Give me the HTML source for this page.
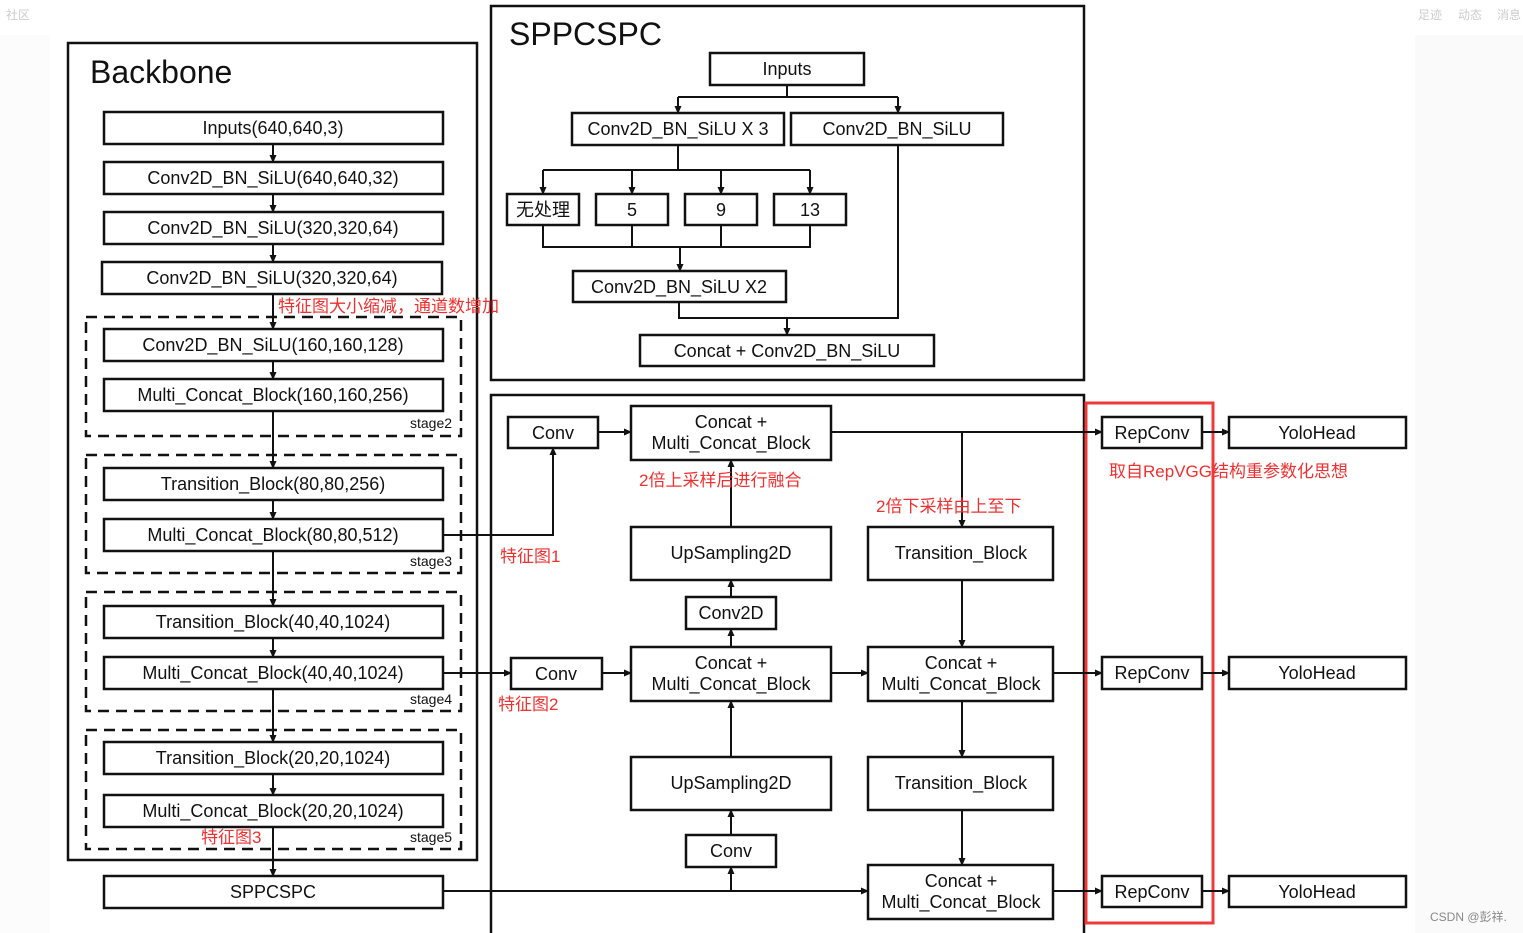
<!DOCTYPE html>
<html><head><meta charset="utf-8"><style>
html,body{margin:0;padding:0;background:#fff}
svg{display:block}
text{font-family:"Liberation Sans","Noto Sans CJK SC",sans-serif;font-size:18px;fill:#111}
.r{fill:#f03030;font-size:17px}
.s{font-size:14px}
</style></head><body>
<svg width="1523" height="933" viewBox="0 0 1523 933" xmlns="http://www.w3.org/2000/svg">
<defs><marker id="a" markerWidth="8" markerHeight="8" refX="7" refY="4" orient="auto" markerUnits="userSpaceOnUse"><path d="M0,0.5 L8,4 L0,7.5 Z" fill="#111"/></marker></defs>
<rect x="1415" y="35" width="108" height="898" fill="#fafafa"/>
<rect x="0" y="35" width="50" height="898" fill="#fcfcfc"/>
<text x="6" y="19" style="font-size:12px;fill:#ccc">社区</text>
<text x="1418" y="19" style="font-size:12px;fill:#ccc">足迹</text>
<text x="1458" y="19" style="font-size:12px;fill:#ccc">动态</text>
<text x="1497" y="19" style="font-size:12px;fill:#ccc">消息</text>
<text x="1430" y="921" style="font-size:12px;fill:#888">CSDN @彭祥.</text>
<g fill="none" stroke="#111" stroke-width="2.5">
<rect x="68" y="43" width="409" height="817"/>
<rect x="491" y="6" width="593" height="374"/>
<path d="M491,940 V395 H1084 V940"/>
<g stroke-dasharray="11,7">
<rect x="86" y="317" width="375" height="119"/>
<rect x="86" y="455" width="375" height="118"/>
<rect x="86" y="592" width="375" height="119"/>
<rect x="86" y="730" width="375" height="119"/>
</g>
<rect x="104" y="112" width="339" height="32"/>
<rect x="104" y="162" width="339" height="32"/>
<rect x="104" y="212" width="339" height="32"/>
<rect x="102" y="262" width="340" height="32"/>
<rect x="104" y="329" width="339" height="32"/>
<rect x="104" y="379" width="339" height="32"/>
<rect x="104" y="468" width="339" height="32"/>
<rect x="104" y="519" width="339" height="32"/>
<rect x="104" y="606" width="339" height="32"/>
<rect x="104" y="657" width="339" height="32"/>
<rect x="104" y="742" width="339" height="32"/>
<rect x="104" y="795" width="339" height="32"/>
<rect x="104" y="876" width="339" height="32"/>
<rect x="710" y="53" width="154" height="32"/>
<rect x="572" y="113" width="212" height="32"/>
<rect x="791" y="113" width="212" height="32"/>
<rect x="507" y="194" width="72" height="31"/>
<rect x="596" y="194" width="72" height="31"/>
<rect x="685" y="194" width="72" height="31"/>
<rect x="774" y="194" width="72" height="31"/>
<rect x="573" y="271" width="213" height="31"/>
<rect x="640" y="335" width="294" height="31"/>
<rect x="508" y="417" width="90" height="31"/>
<rect x="631" y="406" width="200" height="54"/>
<rect x="631" y="527" width="200" height="53"/>
<rect x="868" y="527" width="185" height="53"/>
<rect x="686" y="597" width="90" height="32"/>
<rect x="511" y="658" width="91" height="31"/>
<rect x="631" y="647" width="200" height="54"/>
<rect x="868" y="647" width="185" height="54"/>
<rect x="631" y="757" width="200" height="53"/>
<rect x="868" y="757" width="185" height="53"/>
<rect x="686" y="835" width="90" height="32"/>
<rect x="868" y="865" width="185" height="54"/>
<rect x="1102" y="417" width="100" height="31"/>
<rect x="1102" y="657" width="100" height="32"/>
<rect x="1102" y="876" width="100" height="31"/>
<rect x="1229" y="417" width="177" height="31"/>
<rect x="1229" y="657" width="177" height="32"/>
<rect x="1229" y="876" width="177" height="31"/>
</g>
<rect x="1086" y="403" width="127" height="520" fill="none" stroke="#f03a3a" stroke-width="3"/>
<g fill="none" stroke="#111" stroke-width="2">
<path d="M273,144 V162" marker-end="url(#a)"/>
<path d="M273,194 V212" marker-end="url(#a)"/>
<path d="M273,244 V262" marker-end="url(#a)"/>
<path d="M273,294 V329" marker-end="url(#a)"/>
<path d="M273,361 V379" marker-end="url(#a)"/>
<path d="M273,411 V468" marker-end="url(#a)"/>
<path d="M273,500 V519" marker-end="url(#a)"/>
<path d="M273,551 V606" marker-end="url(#a)"/>
<path d="M273,638 V657" marker-end="url(#a)"/>
<path d="M273,689 V742" marker-end="url(#a)"/>
<path d="M273,774 V795" marker-end="url(#a)"/>
<path d="M273,827 V876" marker-end="url(#a)"/>
<path d="M787,85 V97 M678,97 H898"/>
<path d="M678,97 V113" marker-end="url(#a)"/>
<path d="M898,97 V113" marker-end="url(#a)"/>
<path d="M678,145 V170 M543,170 H810"/>
<path d="M543,170 V194" marker-end="url(#a)"/>
<path d="M632,170 V194" marker-end="url(#a)"/>
<path d="M721,170 V194" marker-end="url(#a)"/>
<path d="M810,170 V194" marker-end="url(#a)"/>
<path d="M543,225 V247 H810 V225 M632,225 V247 M721,225 V247"/>
<path d="M680,247 V271" marker-end="url(#a)"/>
<path d="M679,302 V318 H898 V145"/>
<path d="M787,318 V335" marker-end="url(#a)"/>
<path d="M598,432 H631" marker-end="url(#a)"/>
<path d="M443,535 H553 V448" marker-end="url(#a)"/>
<path d="M831,432 H1102" marker-end="url(#a)"/>
<path d="M962,432 V527" marker-end="url(#a)"/>
<path d="M731,527 V460" marker-end="url(#a)"/>
<path d="M731,597 V580" marker-end="url(#a)"/>
<path d="M731,647 V629" marker-end="url(#a)"/>
<path d="M443,673 H511" marker-end="url(#a)"/>
<path d="M602,673 H631" marker-end="url(#a)"/>
<path d="M831,673 H868" marker-end="url(#a)"/>
<path d="M962,580 V647" marker-end="url(#a)"/>
<path d="M1053,673 H1102" marker-end="url(#a)"/>
<path d="M731,757 V701" marker-end="url(#a)"/>
<path d="M731,835 V810" marker-end="url(#a)"/>
<path d="M962,701 V757" marker-end="url(#a)"/>
<path d="M962,810 V865" marker-end="url(#a)"/>
<path d="M443,891 H868" marker-end="url(#a)"/>
<path d="M731,891 V867" marker-end="url(#a)"/>
<path d="M1053,891 H1102" marker-end="url(#a)"/>
<path d="M1202,432 H1229" marker-end="url(#a)"/>
<path d="M1202,673 H1229" marker-end="url(#a)"/>
<path d="M1202,891 H1229" marker-end="url(#a)"/>
</g>
<text x="90" y="83" style="font-size:32px">Backbone</text>
<text x="509" y="45" style="font-size:32px">SPPCSPC</text>
<g text-anchor="middle">
<text x="273" y="134">Inputs(640,640,3)</text>
<text x="273" y="184">Conv2D_BN_SiLU(640,640,32)</text>
<text x="273" y="234">Conv2D_BN_SiLU(320,320,64)</text>
<text x="272" y="284">Conv2D_BN_SiLU(320,320,64)</text>
<text x="273" y="351">Conv2D_BN_SiLU(160,160,128)</text>
<text x="273" y="401">Multi_Concat_Block(160,160,256)</text>
<text x="273" y="490">Transition_Block(80,80,256)</text>
<text x="273" y="541">Multi_Concat_Block(80,80,512)</text>
<text x="273" y="628">Transition_Block(40,40,1024)</text>
<text x="273" y="679">Multi_Concat_Block(40,40,1024)</text>
<text x="273" y="764">Transition_Block(20,20,1024)</text>
<text x="273" y="817">Multi_Concat_Block(20,20,1024)</text>
<text x="273" y="898">SPPCSPC</text>
<text x="787" y="75">Inputs</text>
<text x="678" y="135">Conv2D_BN_SiLU X 3</text>
<text x="897" y="135">Conv2D_BN_SiLU</text>
<text x="543" y="216">无处理</text>
<text x="632" y="216">5</text>
<text x="721" y="216">9</text>
<text x="810" y="216">13</text>
<text x="679" y="293">Conv2D_BN_SiLU X2</text>
<text x="787" y="357">Concat + Conv2D_BN_SiLU</text>
<text x="553" y="439">Conv</text>
<text x="731" y="428">Concat +</text>
<text x="731" y="449">Multi_Concat_Block</text>
<text x="731" y="559">UpSampling2D</text>
<text x="961" y="559">Transition_Block</text>
<text x="731" y="619">Conv2D</text>
<text x="556" y="680">Conv</text>
<text x="731" y="669">Concat +</text>
<text x="731" y="690">Multi_Concat_Block</text>
<text x="961" y="669">Concat +</text>
<text x="961" y="690">Multi_Concat_Block</text>
<text x="731" y="789">UpSampling2D</text>
<text x="961" y="789">Transition_Block</text>
<text x="731" y="857">Conv</text>
<text x="961" y="887">Concat +</text>
<text x="961" y="908">Multi_Concat_Block</text>
<text x="1152" y="439">RepConv</text>
<text x="1152" y="679">RepConv</text>
<text x="1152" y="898">RepConv</text>
<text x="1317" y="439">YoloHead</text>
<text x="1317" y="679">YoloHead</text>
<text x="1317" y="898">YoloHead</text>
</g>
<text class="s" x="410" y="428">stage2</text>
<text class="s" x="410" y="566">stage3</text>
<text class="s" x="410" y="704">stage4</text>
<text class="s" x="410" y="842">stage5</text>
<text class="r" x="278" y="312">特征图大小缩减，通道数增加</text>
<text class="r" x="500" y="562">特征图1</text>
<text class="r" x="498" y="710">特征图2</text>
<text class="r" x="201" y="843">特征图3</text>
<text class="r" x="639" y="486">2倍上采样后进行融合</text>
<text class="r" x="876" y="512">2倍下采样由上至下</text>
<text class="r" x="1109" y="477">取自RepVGG结构重参数化思想</text>
</svg>
</body></html>
